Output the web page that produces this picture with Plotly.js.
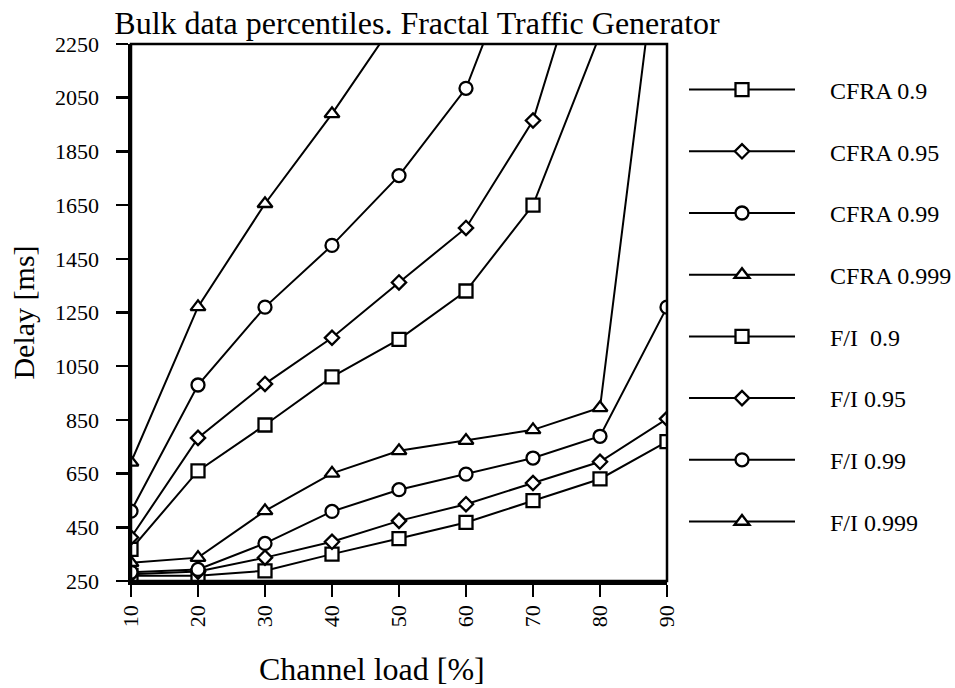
<!DOCTYPE html>
<html>
<head>
<meta charset="utf-8">
<script src="https://cdn.plot.ly/plotly-3.0.1.min.js"></script>
<style>html,body{margin:0;padding:0;background:#fff;}</style>
</head>
<body>
<div id="chart" style="width:955px;height:688px;"></div>
<script>
// Channel load [%]
var loads = [10, 20, 30, 40, 50, 60, 70, 80, 90];

// Series names
var seriesNames = ["CFRA 0.9", "CFRA 0.95", "CFRA 0.99", "CFRA 0.999",
                   "F/I\u00a0 0.9", "F/I 0.95", "F/I 0.99", "F/I 0.999"];

// Delay [ms] values
var cfra090  = [368, 660, 831, 1010, 1150, 1330, 1650, 2285];
var cfra095  = [412, 783, 984, 1156, 1362, 1565, 1965, 2775];
var cfra099  = [510, 980, 1270, 1500, 1760, 2085, 2730];
var cfra0999 = [692, 1271, 1655, 1990, 2355];
var fi090    = [270, 270, 288, 350, 408, 468, 549, 630, 769];
var fi095    = [275, 285, 337, 396, 474, 536, 615, 694, 854];
var fi099    = [283, 293, 390, 509, 590, 648, 708, 789, 1270];
var fi0999   = [318, 337, 511, 651, 735, 773, 813, 895, 2890];

var yTicks = [250, 450, 650, 850, 1050, 1250, 1450, 1650, 1850, 2050, 2250];

var seriesValues = [cfra090, cfra095, cfra099, cfra0999, fi090, fi095, fi099, fi0999];
var symbols = ["square", "diamond", "circle", "triangle-up", "square", "diamond", "circle", "triangle-up"];
var sizes = {"square": 13, "diamond": 11, "circle": 13, "triangle-up": 13};

var FONT = "Liberation Serif, Times New Roman, serif";
var PAD = "\u00a0\u00a0\u00a0\u00a0\u00a0";

var traces = seriesValues.map(function (vals, i) {
  return {
    type: "scatter",
    mode: "lines+markers",
    name: PAD + seriesNames[i],
    legendgroup: "g" + i,
    x: loads.slice(0, vals.length),
    y: vals,
    line: {color: "black", width: 2},
    marker: {symbol: symbols[i], size: sizes[symbols[i]], color: "white",
             line: {color: "black", width: 2.3}},
    cliponaxis: true
  };
});

var PLOT_TOP = 44, PLOT_BOTTOM = 581;

var layout = {
  width: 955, height: 688,
  paper_bgcolor: "white", plot_bgcolor: "white",
  font: {family: FONT, color: "black", size: 22},
  margin: {l: 131, r: 288, t: PLOT_TOP, b: 688 - PLOT_BOTTOM, pad: 0},
  title: {text: "Bulk data percentiles. Fractal Traffic Generator",
          font: {family: FONT, size: 32, color: "black"},
          xref: "container", x: 417 / 955, xanchor: "center",
          yref: "container", y: 1 - 23 / 688, yanchor: "middle"},
  xaxis: {
    range: [10, 90], tickvals: loads, ticktext: loads.map(String),
    tickangle: -90, ticks: "outside", ticklen: 12, tickwidth: 2.5, tickcolor: "black",
    showline: true, linewidth: 3.5, linecolor: "black",
    showgrid: false, zeroline: false, fixedrange: true,
    tickfont: {family: FONT, size: 22, color: "black"}
  },
  yaxis: {
    range: [250, 2250], tickvals: yTicks, ticktext: yTicks.map(String),
    ticks: "outside", ticklen: 12, tickwidth: 2.5, tickcolor: "black",
    showline: true, linewidth: 3.5, linecolor: "black",
    showgrid: false, zeroline: false, fixedrange: true,
    ticklabelstandoff: 12,
    tickfont: {family: FONT, size: 22, color: "black"},
    title: {text: "Delay [ms]", font: {family: FONT, size: 30, color: "black"}, standoff: 12}
  },
  annotations: [{
    text: "Channel load [%]", showarrow: false,
    xref: "paper", x: (371.5 - 131) / 536, xanchor: "center",
    yref: "paper", y: (PLOT_BOTTOM - 669) / (PLOT_BOTTOM - PLOT_TOP), yanchor: "middle",
    font: {family: FONT, size: 32, color: "black"}
  }],
  shapes: [{type: "rect", xref: "paper", yref: "paper", x0: 0, x1: 1, y0: 0, y1: 1,
            line: {color: "black", width: 2.5}, layer: "above"}],
  showlegend: true,
  legend: {
    xref: "container", yref: "container",
    x: 684 / 955, xanchor: "left",
    y: 1 - 67.5 / 688, yanchor: "top",
    font: {family: FONT, size: 24, color: "black"},
    itemwidth: 106, tracegroupgap: 27.5,
    traceorder: "grouped", maxheight: 620,
    bgcolor: "rgba(0,0,0,0)", borderwidth: 0
  }
};

Plotly.newPlot("chart", traces, layout, {displayModeBar: false, staticPlot: true});
</script>
</body>
</html>
